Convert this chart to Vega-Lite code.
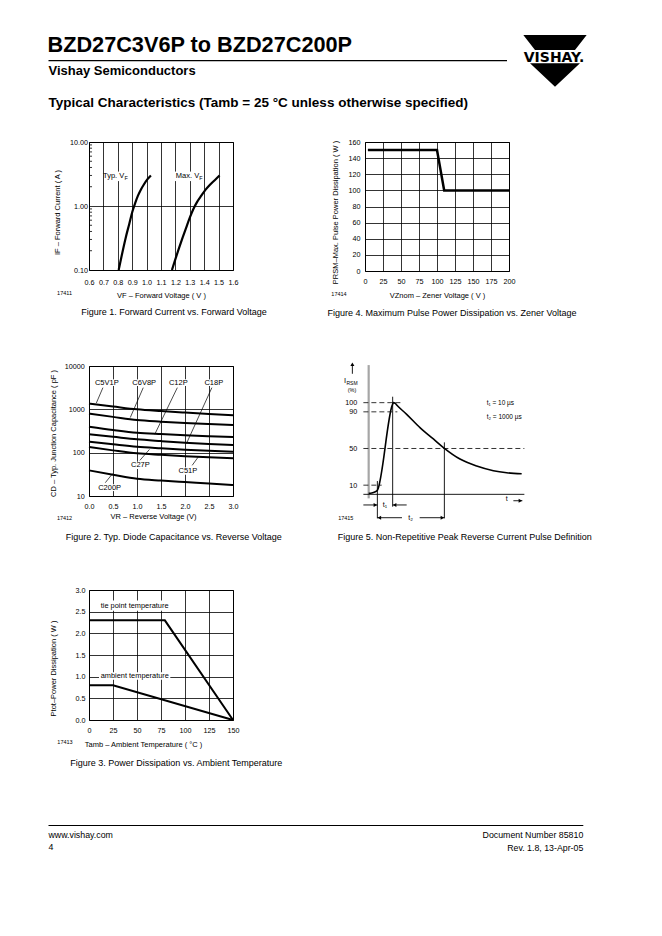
{
  "$schema": "https://vega.github.io/schema/vega-lite/v6.json",
  "background": "white",
  "padding": 0,
  "columns": 5,
  "spacing": 0,
  "bounds": "flush",
  "align": "each",
  "config": {
    "view": {"stroke": null},
    "text": {"font": "Liberation Sans", "color": "black"},
    "title": {"font": "Liberation Sans", "color": "black", "fontWeight": "normal"},
    "axis": {"domain": false, "ticks": false, "grid": true, "gridColor": "black", "gridOpacity": 1, "gridWidth": 0.8,
      "labelFont": "Liberation Sans", "labelFontSize": 7.2, "labelColor": "black", "labelFlush": false, "labelOverlap": false,
      "titleFont": "Liberation Sans", "titleFontSize": 7.5, "titleFontWeight": "normal", "titleColor": "black"}
  },
  "datasets": {
    "one": [{}],
    "f1_curves": [
      {"curve": "typ", "vf": 0.806, "cur": 0.1}, {"curve": "typ", "vf": 0.83, "cur": 0.18}, {"curve": "typ", "vf": 0.855, "cur": 0.32},
      {"curve": "typ", "vf": 0.88, "cur": 0.53}, {"curve": "typ", "vf": 0.9, "cur": 0.8}, {"curve": "typ", "vf": 0.92, "cur": 1.1},
      {"curve": "typ", "vf": 0.94, "cur": 1.45}, {"curve": "typ", "vf": 0.96, "cur": 1.8}, {"curve": "typ", "vf": 0.98, "cur": 2.15},
      {"curve": "typ", "vf": 1.005, "cur": 2.6}, {"curve": "typ", "vf": 1.03, "cur": 3.0},
      {"curve": "max", "vf": 1.176, "cur": 0.1}, {"curve": "max", "vf": 1.2, "cur": 0.148}, {"curve": "max", "vf": 1.225, "cur": 0.22},
      {"curve": "max", "vf": 1.25, "cur": 0.32}, {"curve": "max", "vf": 1.275, "cur": 0.46}, {"curve": "max", "vf": 1.3, "cur": 0.66},
      {"curve": "max", "vf": 1.325, "cur": 0.9}, {"curve": "max", "vf": 1.35, "cur": 1.15}, {"curve": "max", "vf": 1.38, "cur": 1.45},
      {"curve": "max", "vf": 1.41, "cur": 1.8}, {"curve": "max", "vf": 1.44, "cur": 2.15}, {"curve": "max", "vf": 1.475, "cur": 2.55},
      {"curve": "max", "vf": 1.507, "cur": 3.0}
    ],
    "f1_ticks": [
      {"vf": 0.6, "vf2": 0.621, "cur": 0.2}, {"vf": 0.6, "vf2": 0.621, "cur": 0.3}, {"vf": 0.6, "vf2": 0.621, "cur": 0.4},
      {"vf": 0.6, "vf2": 0.621, "cur": 0.5}, {"vf": 0.6, "vf2": 0.621, "cur": 0.6}, {"vf": 0.6, "vf2": 0.621, "cur": 0.7},
      {"vf": 0.6, "vf2": 0.621, "cur": 0.8}, {"vf": 0.6, "vf2": 0.621, "cur": 0.9},
      {"vf": 0.6, "vf2": 0.621, "cur": 2}, {"vf": 0.6, "vf2": 0.621, "cur": 3}, {"vf": 0.6, "vf2": 0.621, "cur": 4},
      {"vf": 0.6, "vf2": 0.621, "cur": 5}, {"vf": 0.6, "vf2": 0.621, "cur": 6}, {"vf": 0.6, "vf2": 0.621, "cur": 7},
      {"vf": 0.6, "vf2": 0.621, "cur": 8}, {"vf": 0.6, "vf2": 0.621, "cur": 9}
    ],
    "f1_boxes": [
      {"vf": 0.735, "vf2": 0.875, "cur": 2.45, "cur2": 3.45},
      {"vf": 1.19, "vf2": 1.395, "cur": 2.45, "cur2": 3.45}
    ],
    "f1_labels": [
      {"vf": 0.845, "cur": 2.9, "label": "Typ. V"},
      {"vf": 1.365, "cur": 2.9, "label": "Max. V"}
    ],
    "f1_subs": [
      {"vf": 0.846, "cur": 2.9, "label": "F"},
      {"vf": 1.366, "cur": 2.9, "label": "F"}
    ],
    "f1_id": [{"vf": 0.43, "cur": 0.0437, "label": "17411"}],
    "f4_line": [
      {"vz": 4, "pw": 150}, {"vz": 100, "pw": 150}, {"vz": 110, "pw": 100}, {"vz": 200, "pw": 100}
    ],
    "f4_id": [{"vz": -36.1, "pw": -28.9, "label": "17414"}],
    "f2_curves": [
      {"s": "C5V1P", "vr": 0, "c": 1350}, {"s": "C5V1P", "vr": 0.5, "c": 1160}, {"s": "C5V1P", "vr": 1, "c": 1000}, {"s": "C5V1P", "vr": 1.5, "c": 910}, {"s": "C5V1P", "vr": 2, "c": 840}, {"s": "C5V1P", "vr": 2.5, "c": 780}, {"s": "C5V1P", "vr": 3, "c": 727},
      {"s": "C6V8P", "vr": 0, "c": 795}, {"s": "C6V8P", "vr": 0.5, "c": 670}, {"s": "C6V8P", "vr": 1, "c": 567}, {"s": "C6V8P", "vr": 1.5, "c": 520}, {"s": "C6V8P", "vr": 2, "c": 485}, {"s": "C6V8P", "vr": 2.5, "c": 458}, {"s": "C6V8P", "vr": 3, "c": 435},
      {"s": "C12P", "vr": 0, "c": 398}, {"s": "C12P", "vr": 0.5, "c": 335}, {"s": "C12P", "vr": 1, "c": 289}, {"s": "C12P", "vr": 1.5, "c": 268}, {"s": "C12P", "vr": 2, "c": 252}, {"s": "C12P", "vr": 2.5, "c": 240}, {"s": "C12P", "vr": 3, "c": 230},
      {"s": "C18P", "vr": 0, "c": 265}, {"s": "C18P", "vr": 0.5, "c": 232}, {"s": "C18P", "vr": 1, "c": 203}, {"s": "C18P", "vr": 1.5, "c": 185}, {"s": "C18P", "vr": 2, "c": 170}, {"s": "C18P", "vr": 2.5, "c": 159}, {"s": "C18P", "vr": 3, "c": 150},
      {"s": "C27P", "vr": 0, "c": 179}, {"s": "C27P", "vr": 0.5, "c": 156}, {"s": "C27P", "vr": 1, "c": 137}, {"s": "C27P", "vr": 1.5, "c": 126}, {"s": "C27P", "vr": 2, "c": 117}, {"s": "C27P", "vr": 2.5, "c": 110}, {"s": "C27P", "vr": 3, "c": 105},
      {"s": "C51P", "vr": 0, "c": 135}, {"s": "C51P", "vr": 0.5, "c": 113}, {"s": "C51P", "vr": 1, "c": 96.5}, {"s": "C51P", "vr": 1.5, "c": 89}, {"s": "C51P", "vr": 2, "c": 83}, {"s": "C51P", "vr": 2.5, "c": 78}, {"s": "C51P", "vr": 3, "c": 74},
      {"s": "C200P", "vr": 0, "c": 39}, {"s": "C200P", "vr": 0.5, "c": 31}, {"s": "C200P", "vr": 1, "c": 25}, {"s": "C200P", "vr": 1.5, "c": 22.7}, {"s": "C200P", "vr": 2, "c": 21}, {"s": "C200P", "vr": 2.5, "c": 19.5}, {"s": "C200P", "vr": 3, "c": 18}
    ],
    "f2_leaders": [
      {"vr": 0.29, "c": 3162, "vr2": 0.153, "c2": 1400},
      {"vr": 1.13, "c": 3162, "vr2": 0.86, "c2": 646},
      {"vr": 1.84, "c": 3162, "vr2": 1.37, "c2": 265},
      {"vr": 2.56, "c": 3162, "vr2": 2.03, "c2": 162},
      {"vr": 1.06, "c": 66.5, "vr2": 1.26, "c2": 119},
      {"vr": 2.15, "c": 51, "vr2": 2.29, "c2": 83.6},
      {"vr": 0.34, "c": 20.3, "vr2": 0.49, "c2": 32.8}
    ],
    "f2_boxes": [
      {"vr": 0.1, "vr2": 0.64, "c": 3450, "c2": 4920},
      {"vr": 0.88, "vr2": 1.42, "c": 3450, "c2": 4920},
      {"vr": 1.66, "vr2": 2.06, "c": 3450, "c2": 4920},
      {"vr": 2.4, "vr2": 2.8, "c": 3450, "c2": 4920},
      {"vr": 0.86, "vr2": 1.28, "c": 42, "c2": 62},
      {"vr": 1.86, "vr2": 2.26, "c": 31, "c2": 46},
      {"vr": 0.18, "vr2": 0.68, "c": 13, "c2": 18.7}
    ],
    "f2_labels": [
      {"vr": 0.37, "c": 4120, "label": "C5V1P"},
      {"vr": 1.15, "c": 4120, "label": "C6V8P"},
      {"vr": 1.86, "c": 4120, "label": "C12P"},
      {"vr": 2.6, "c": 4120, "label": "C18P"},
      {"vr": 1.07, "c": 51, "label": "C27P"},
      {"vr": 2.06, "c": 37.8, "label": "C51P"},
      {"vr": 0.43, "c": 15.6, "label": "C200P"}
    ],
    "f2_id": [{"vr": -0.51, "c": 3.06, "label": "17412"}],
    "f3_lines": [
      {"s": "tie", "ta": 0, "p": 2.3}, {"s": "tie", "ta": 79, "p": 2.3}, {"s": "tie", "ta": 150, "p": 0},
      {"s": "amb", "ta": 0, "p": 0.8}, {"s": "amb", "ta": 25, "p": 0.8}, {"s": "amb", "ta": 150, "p": 0}
    ],
    "f3_boxes": [
      {"ta": 10.4, "ta2": 84.7, "p": 2.52, "p2": 2.76},
      {"ta": 10.4, "ta2": 84.7, "p": 0.93, "p2": 1.1}
    ],
    "f3_labels": [
      {"ta": 12.2, "p": 2.63, "label": "tie point temperature"},
      {"ta": 12.2, "p": 1.015, "label": "ambient temperature"}
    ],
    "f3_id": [{"ta": -25, "p": -0.5, "label": "17413"}],
    "f5_curve": [
      {"t": 0, "i": 1.1}, {"t": 3, "i": 1.5}, {"t": 6, "i": 2.5}, {"t": 8.7, "i": 4.5}, {"t": 23.5, "i": 97},
      {"t": 24.7, "i": 100}, {"t": 26.5, "i": 99.3}, {"t": 28, "i": 97.5}, {"t": 38, "i": 87.3}, {"t": 51.3, "i": 72.7},
      {"t": 64.7, "i": 60.4}, {"t": 75.7, "i": 50.2}, {"t": 91.3, "i": 38.5}, {"t": 108, "i": 30.9}, {"t": 124.7, "i": 25.8},
      {"t": 138, "i": 23.6}, {"t": 153, "i": 22.5}
    ],
    "f5_gray": [{"t": 0, "t2": 0, "i": 141, "i2": -4.4}],
    "f5_dashed": [
      {"t": -5.3, "t2": 34, "i": 100, "i2": 100},
      {"t": -5.3, "t2": 28.7, "i": 90, "i2": 90},
      {"t": -5.3, "t2": 155.7, "i": 50, "i2": 50},
      {"t": -5.3, "t2": 13, "i": 10, "i2": 10}
    ],
    "f5_solid": [
      {"t": -5.3, "t2": 155.7, "i": 0, "i2": 0},
      {"t": 8.7, "t2": 8.7, "i": 14.5, "i2": -26.2},
      {"t": 24, "t2": 24, "i": 106.5, "i2": -13.5},
      {"t": 75.7, "t2": 75.7, "i": 56.7, "i2": -26.2},
      {"t": -5.3, "t2": 8.7, "i": -11.6, "i2": -11.6},
      {"t": 24, "t2": 38, "i": -11.6, "i2": -11.6},
      {"t": 8.7, "t2": 33.3, "i": -25.5, "i2": -25.5},
      {"t": 51, "t2": 75.7, "i": -25.5, "i2": -25.5},
      {"t": 144.7, "t2": 153.7, "i": -7, "i2": -7},
      {"t": -16.3, "t2": -16.3, "i": 131.5, "i2": 142}
    ],
    "f5_heads": [
      {"t": 6.7, "i": -11.6, "dir": "right"},
      {"t": 26, "i": -11.6, "dir": "left"},
      {"t": 10.7, "i": -25.5, "dir": "left"},
      {"t": 73.7, "i": -25.5, "dir": "right"},
      {"t": 151.7, "i": -7, "dir": "right"},
      {"t": -16.3, "i": 141.8, "dir": "up"}
    ],
    "f5_marks": [
      {"t": 16.3, "i": -11.6, "label": "t₁"},
      {"t": 42, "i": -25.5, "label": "t₂"},
      {"t": 138, "i": -5.4, "label": "t"}
    ],
    "f5_legend": [
      {"t": 118, "i": 99.3, "label": "t₁ = 10 µs"},
      {"t": 118, "i": 84.7, "label": "t₂ = 1000 µs"}
    ],
    "f5_I": [{"t": -24.7, "i": 121.4, "label": "I"}],
    "f5_RSM": [{"t": -22.2, "i": 119.3, "label": "RSM"}],
    "f5_pct": [{"t": -16.7, "i": 111.6, "label": "(%)"}],
    "f5_id": [{"t": -22.9, "i": -26.2, "label": "17415"}]
  },
  "concat": [
    {
      "width": 89, "height": 142,
      "data": {"name": "one"},
      "layer": [
        {"mark": {"type": "text", "align": "left", "baseline": "alphabetic", "fontSize": 21.7, "fontWeight": "bold"},
         "encoding": {
           "x": {"datum": 47.5, "type": "quantitative", "scale": {"domain": [0, 89], "nice": false, "zero": false}, "axis": null},
           "y": {"datum": 51.7, "type": "quantitative", "scale": {"domain": [0, 142], "reverse": true, "nice": false, "zero": false}, "axis": null},
           "text": {"value": "BZD27C3V6P to BZD27C200P"}}},
        {"mark": {"type": "rule", "color": "black", "strokeWidth": 1.2},
         "encoding": {
           "x": {"datum": 48.5, "type": "quantitative", "scale": {"domain": [0, 89], "nice": false, "zero": false}, "axis": null},
           "x2": {"datum": 507},
           "y": {"datum": 60.7, "type": "quantitative", "scale": {"domain": [0, 142], "reverse": true, "nice": false, "zero": false}, "axis": null}}},
        {"mark": {"type": "text", "align": "left", "baseline": "alphabetic", "fontSize": 13, "fontWeight": "bold"},
         "encoding": {
           "x": {"datum": 48.5, "type": "quantitative", "scale": {"domain": [0, 89], "nice": false, "zero": false}, "axis": null},
           "y": {"datum": 75, "type": "quantitative", "scale": {"domain": [0, 142], "reverse": true, "nice": false, "zero": false}, "axis": null},
           "text": {"value": "Vishay Semiconductors"}}},
        {"mark": {"type": "text", "align": "left", "baseline": "alphabetic", "fontSize": 13.5, "fontWeight": "bold"},
         "encoding": {
           "x": {"datum": 48.5, "type": "quantitative", "scale": {"domain": [0, 89], "nice": false, "zero": false}, "axis": null},
           "y": {"datum": 106.7, "type": "quantitative", "scale": {"domain": [0, 142], "reverse": true, "nice": false, "zero": false}, "axis": null},
           "text": {"value": "Typical Characteristics (Tamb = 25 °C unless otherwise specified)"}}}
      ]
    },
    {"width": 1, "height": 1, "mark": {"type": "point", "opacity": 0}},
    {"width": 1, "height": 1, "mark": {"type": "point", "opacity": 0}},
    {"width": 1, "height": 1, "mark": {"type": "point", "opacity": 0}},
    {
      "width": 92, "height": 122,
      "data": {"name": "one"},
      "layer": [
        {"mark": {"type": "point", "shape": "M-0.99,-0.8125L0.99,-0.8125L0.625,-0.344L-0.625,-0.344ZM-0.78,0.072L0.78,0.072L0,0.803Z", "size": 4096, "filled": true, "color": "black", "opacity": 1, "strokeWidth": 0}},
        {"mark": {"type": "text", "text": "VISHAY.", "font": "DejaVu Sans", "fontWeight": "bold", "fontSize": 14, "align": "center", "baseline": "middle", "dx": -1, "dy": -3.2}}
      ]
    },

    {"width": 89, "height": 224, "mark": {"type": "point", "opacity": 0}},
    {
      "width": 144, "height": 128,
      "view": {"stroke": "black", "strokeWidth": 1},
      "title": {"text": "Figure 1. Forward Current vs. Forward Voltage", "orient": "bottom", "anchor": "middle", "frame": "group", "baseline": "top", "fontSize": 9, "offset": 9.6, "dx": 13},
      "encoding": {
        "x": {"field": "vf", "type": "quantitative", "scale": {"domain": [0.6, 1.6], "nice": false, "zero": false},
              "axis": {"values": [0.6, 0.7, 0.8, 0.9, 1.0, 1.1, 1.2, 1.3, 1.4, 1.5, 1.6], "format": ".1f", "labelPadding": 8, "title": "VF – Forward Voltage ( V )", "titlePadding": 6}},
        "y": {"field": "cur", "type": "quantitative", "scale": {"type": "log", "domain": [0.1, 10], "nice": false},
              "axis": {"values": [0.1, 1, 10], "format": ".2f", "labelPadding": 1.5, "title": "IF – Forward Current ( A )", "titlePadding": 8, "titleY": 70}}
      },
      "layer": [
        {"data": {"name": "f1_ticks"}, "mark": {"type": "rule", "color": "black", "strokeWidth": 0.8}, "encoding": {"x2": {"field": "vf2"}}},
        {"data": {"name": "f1_boxes"}, "mark": {"type": "rect", "color": "white", "opacity": 1}, "encoding": {"x2": {"field": "vf2"}, "y2": {"field": "cur2"}}},
        {"data": {"name": "f1_curves"}, "mark": {"type": "line", "color": "black", "strokeWidth": 2.2, "interpolate": "monotone"}, "encoding": {"detail": {"field": "curve"}}},
        {"data": {"name": "f1_labels"}, "mark": {"type": "text", "align": "right", "baseline": "middle", "fontSize": 7.5}, "encoding": {"text": {"field": "label"}}},
        {"data": {"name": "f1_subs"}, "mark": {"type": "text", "align": "left", "baseline": "middle", "fontSize": 5.5, "dy": 2}, "encoding": {"text": {"field": "label"}}},
        {"data": {"name": "f1_id"}, "mark": {"type": "text", "align": "center", "baseline": "middle", "fontSize": 5.5}, "encoding": {"text": {"field": "label"}}}
      ]
    },
    {"width": 132, "height": 1, "mark": {"type": "point", "opacity": 0}},
    {
      "width": 144, "height": 129,
      "view": {"stroke": "black", "strokeWidth": 1},
      "title": {"text": "Figure 4. Maximum Pulse Power Dissipation vs. Zener Voltage", "orient": "bottom", "anchor": "middle", "frame": "group", "baseline": "top", "fontSize": 9, "offset": 9.6, "dx": 15},
      "encoding": {
        "x": {"field": "vz", "type": "quantitative", "scale": {"domain": [0, 200], "nice": false, "zero": false},
              "axis": {"values": [0, 25, 50, 75, 100, 125, 150, 175, 200], "format": "d", "labelPadding": 6.6, "title": "VZnom – Zener Voltage ( V )", "titlePadding": 6.9}},
        "y": {"field": "pw", "type": "quantitative", "scale": {"domain": [0, 160], "nice": false, "zero": false},
              "axis": {"values": [0, 20, 40, 60, 80, 100, 120, 140, 160], "format": "d", "labelPadding": 5, "title": "PRSM–Max. Pulse Power Dissipation ( W )", "titlePadding": 8.7, "titleY": 70}}
      },
      "layer": [
        {"data": {"name": "f4_line"}, "mark": {"type": "line", "color": "black", "strokeWidth": 2.5}},
        {"data": {"name": "f4_id"}, "mark": {"type": "text", "align": "center", "baseline": "middle", "fontSize": 5.5}, "encoding": {"text": {"field": "label"}}}
      ]
    },
    {"width": 1, "height": 1, "mark": {"type": "point", "opacity": 0}},

    {"width": 89, "height": 224, "mark": {"type": "point", "opacity": 0}},
    {
      "width": 144, "height": 130,
      "view": {"stroke": "black", "strokeWidth": 1},
      "title": {"text": "Figure 2. Typ. Diode Capacitance vs. Reverse Voltage", "orient": "bottom", "anchor": "middle", "frame": "group", "baseline": "top", "fontSize": 9, "offset": 11, "dx": 12.7},
      "encoding": {
        "x": {"field": "vr", "type": "quantitative", "scale": {"domain": [0, 3], "nice": false, "zero": false},
              "axis": {"values": [0, 0.5, 1, 1.5, 2, 2.5, 3], "format": ".1f", "labelPadding": 6.6, "title": "VR – Reverse Voltage (V)", "titlePadding": 2.6, "titleX": 64}},
        "y": {"field": "c", "type": "quantitative", "scale": {"type": "log", "domain": [10, 10000], "nice": false},
              "axis": {"values": [10, 100, 1000, 10000], "format": "d", "labelPadding": 4.7, "title": "CD – Typ. Junction Capacitance ( pF )", "titlePadding": 6.7, "titleY": 67}}
      },
      "layer": [
        {"data": {"name": "f2_leaders"}, "mark": {"type": "rule", "color": "black", "strokeWidth": 0.7}, "encoding": {"x2": {"field": "vr2"}, "y2": {"field": "c2"}}},
        {"data": {"name": "f2_boxes"}, "mark": {"type": "rect", "color": "white", "opacity": 1}, "encoding": {"x2": {"field": "vr2"}, "y2": {"field": "c2"}}},
        {"data": {"name": "f2_curves"}, "mark": {"type": "line", "color": "black", "strokeWidth": 2, "interpolate": "monotone"}, "encoding": {"detail": {"field": "s"}}},
        {"data": {"name": "f2_labels"}, "mark": {"type": "text", "align": "center", "baseline": "middle", "fontSize": 7.5}, "encoding": {"text": {"field": "label"}}},
        {"data": {"name": "f2_id"}, "mark": {"type": "text", "align": "center", "baseline": "middle", "fontSize": 5.5}, "encoding": {"text": {"field": "label"}}}
      ]
    },
    {"width": 1, "height": 1, "mark": {"type": "point", "opacity": 0}},
    {
      "width": 144, "height": 130,
      "title": {"text": "Figure 5. Non-Repetitive Peak Reverse Current Pulse Definition", "orient": "bottom", "anchor": "middle", "frame": "group", "baseline": "top", "fontSize": 9, "offset": 11.6, "dx": 27.7},
      "encoding": {
        "x": {"field": "t", "type": "quantitative", "scale": {"domain": [-3.67, 140.33], "nice": false, "zero": false}, "axis": null},
        "y": {"field": "i", "type": "quantitative", "scale": {"domain": [-1.82, 140.0], "nice": false, "zero": false},
              "axis": {"values": [10, 50, 90, 100], "grid": false, "labelPadding": 8.3, "title": null}}
      },
      "layer": [
        {"data": {"name": "f5_gray"}, "mark": {"type": "rule", "color": "#a6a6a6", "strokeWidth": 2.2}, "encoding": {"x2": {"field": "t2"}, "y2": {"field": "i2"}}},
        {"data": {"name": "f5_dashed"}, "mark": {"type": "rule", "color": "black", "strokeWidth": 0.8, "strokeDash": [5, 3]}, "encoding": {"x2": {"field": "t2"}, "y2": {"field": "i2"}}},
        {"data": {"name": "f5_solid"}, "mark": {"type": "rule", "color": "black", "strokeWidth": 0.9}, "encoding": {"x2": {"field": "t2"}, "y2": {"field": "i2"}}},
        {"data": {"name": "f5_heads"}, "mark": {"type": "point", "filled": true, "color": "black", "opacity": 1, "size": 16},
         "encoding": {"shape": {"field": "dir", "type": "nominal", "scale": {"domain": ["right", "left", "up"], "range": ["triangle-right", "triangle-left", "triangle-up"]}, "legend": null}}},
        {"data": {"name": "f5_curve"}, "mark": {"type": "line", "color": "black", "strokeWidth": 1.6, "interpolate": "monotone"}},
        {"data": {"name": "f5_marks"}, "mark": {"type": "text", "align": "center", "baseline": "middle", "fontSize": 7}, "encoding": {"text": {"field": "label"}}},
        {"data": {"name": "f5_legend"}, "mark": {"type": "text", "align": "left", "baseline": "middle", "fontSize": 6.5}, "encoding": {"text": {"field": "label"}}},
        {"data": {"name": "f5_I"}, "mark": {"type": "text", "align": "left", "baseline": "alphabetic", "fontSize": 7.5}, "encoding": {"text": {"field": "label"}}},
        {"data": {"name": "f5_RSM"}, "mark": {"type": "text", "align": "left", "baseline": "alphabetic", "fontSize": 5}, "encoding": {"text": {"field": "label"}}},
        {"data": {"name": "f5_pct"}, "mark": {"type": "text", "align": "center", "baseline": "alphabetic", "fontSize": 5.5}, "encoding": {"text": {"field": "label"}}},
        {"data": {"name": "f5_id"}, "mark": {"type": "text", "align": "center", "baseline": "middle", "fontSize": 5.5}, "encoding": {"text": {"field": "label"}}}
      ]
    },
    {"width": 1, "height": 1, "mark": {"type": "point", "opacity": 0}},

    {
      "width": 89, "height": 346,
      "data": {"name": "one"},
      "layer": [
        {"mark": {"type": "rule", "color": "black", "strokeWidth": 1.2},
         "encoding": {
           "x": {"datum": 48.5, "type": "quantitative", "scale": {"domain": [0, 89], "nice": false, "zero": false}, "axis": null},
           "x2": {"datum": 583.3},
           "y": {"datum": 825.5, "type": "quantitative", "scale": {"domain": [590, 936], "reverse": true, "nice": false, "zero": false}, "axis": null}}},
        {"mark": {"type": "text", "align": "left", "baseline": "alphabetic", "fontSize": 8.8},
         "encoding": {
           "x": {"datum": 48.5, "type": "quantitative", "scale": {"domain": [0, 89], "nice": false, "zero": false}, "axis": null},
           "y": {"datum": 837.5, "type": "quantitative", "scale": {"domain": [590, 936], "reverse": true, "nice": false, "zero": false}, "axis": null},
           "text": {"value": "www.vishay.com"}}},
        {"mark": {"type": "text", "align": "left", "baseline": "alphabetic", "fontSize": 8.8},
         "encoding": {
           "x": {"datum": 48.5, "type": "quantitative", "scale": {"domain": [0, 89], "nice": false, "zero": false}, "axis": null},
           "y": {"datum": 849.5, "type": "quantitative", "scale": {"domain": [590, 936], "reverse": true, "nice": false, "zero": false}, "axis": null},
           "text": {"value": "4"}}},
        {"mark": {"type": "text", "align": "right", "baseline": "alphabetic", "fontSize": 8.8},
         "encoding": {
           "x": {"datum": 583.3, "type": "quantitative", "scale": {"domain": [0, 89], "nice": false, "zero": false}, "axis": null},
           "y": {"datum": 838, "type": "quantitative", "scale": {"domain": [590, 936], "reverse": true, "nice": false, "zero": false}, "axis": null},
           "text": {"value": "Document Number 85810"}}},
        {"mark": {"type": "text", "align": "right", "baseline": "alphabetic", "fontSize": 8.8},
         "encoding": {
           "x": {"datum": 583.3, "type": "quantitative", "scale": {"domain": [0, 89], "nice": false, "zero": false}, "axis": null},
           "y": {"datum": 850.5, "type": "quantitative", "scale": {"domain": [590, 936], "reverse": true, "nice": false, "zero": false}, "axis": null},
           "text": {"value": "Rev. 1.8, 13-Apr-05"}}}
      ]
    },
    {
      "width": 144, "height": 130,
      "view": {"stroke": "black", "strokeWidth": 1},
      "title": {"text": "Figure 3. Power Dissipation  vs. Ambient Temperature", "orient": "bottom", "anchor": "middle", "frame": "group", "baseline": "top", "fontSize": 9, "offset": 10.6, "dx": 15.3},
      "encoding": {
        "x": {"field": "ta", "type": "quantitative", "scale": {"domain": [0, 150], "nice": false, "zero": false},
              "axis": {"values": [0, 25, 50, 75, 100, 125, 150], "format": "d", "labelPadding": 6.6, "title": "Tamb – Ambient Temperature ( °C )", "titlePadding": 6.9, "titleX": 54}},
        "y": {"field": "p", "type": "quantitative", "scale": {"domain": [0, 3], "nice": false, "zero": false},
              "axis": {"values": [0, 0.5, 1, 1.5, 2, 2.5, 3], "format": ".1f", "labelPadding": 4, "title": "Ptot–Power Dissipation ( W )", "titlePadding": 18, "titleY": 78}}
      },
      "layer": [
        {"data": {"name": "f3_boxes"}, "mark": {"type": "rect", "color": "white", "opacity": 1}, "encoding": {"x2": {"field": "ta2"}, "y2": {"field": "p2"}}},
        {"data": {"name": "f3_lines"}, "mark": {"type": "line", "color": "black", "strokeWidth": 2}, "encoding": {"detail": {"field": "s"}}},
        {"data": {"name": "f3_labels"}, "mark": {"type": "text", "align": "left", "baseline": "middle", "fontSize": 7.4}, "encoding": {"text": {"field": "label"}}},
        {"data": {"name": "f3_id"}, "mark": {"type": "text", "align": "center", "baseline": "middle", "fontSize": 5.5}, "encoding": {"text": {"field": "label"}}}
      ]
    }
  ]
}
